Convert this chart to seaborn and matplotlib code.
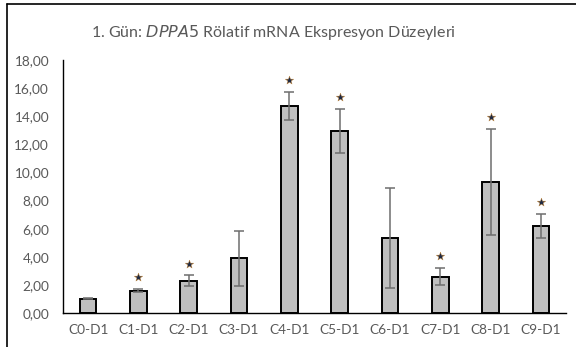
import matplotlib
matplotlib.use("Agg")
import matplotlib.pyplot as plt
import seaborn as sns
import pandas as pd
from matplotlib.lines import Line2D

categories = ["C0-D1", "C1-D1", "C2-D1", "C3-D1", "C4-D1", "C5-D1", "C6-D1", "C7-D1", "C8-D1", "C9-D1"]
values = [1.02, 1.59, 2.28, 3.89, 14.72, 12.94, 5.36, 2.58, 9.34, 6.19]
errors = [0.02, 0.11, 0.39, 1.94, 0.98, 1.58, 3.55, 0.60, 3.78, 0.87]
significant = [False, True, True, False, True, True, False, True, True, True]
yticks = [0, 2, 4, 6, 8, 10, 12, 14, 16, 18]

sns.set_theme(style="white")
plt.rcParams['font.family'] = ['Lato', 'DejaVu Sans']

df = pd.DataFrame({"cat": categories, "val": values})

fig = plt.figure(figsize=(5.76, 3.47), dpi=100)
ax = fig.add_axes([63/576, 1-313/347, (566-63)/576, (313-60)/347])

sns.barplot(data=df, x="cat", y="val", ax=ax, color="#BFBFBF",
            edgecolor="black", linewidth=1.4, width=0.33, saturation=1)

xs = list(range(len(categories)))
ax.errorbar(xs, values, yerr=errors, fmt="none", ecolor="#6E6E6E",
            elinewidth=1.1, capsize=3.5, capthick=1.1)

for x, v, e, s in zip(xs, values, errors, significant):
    if s:
        ax.scatter([x], [v + e + 0.85], marker="*", s=40, color="#1F2A44",
                   edgecolor="#C08030", linewidth=0.3, zorder=5)

ax.set_xlim(-0.5, len(categories) - 0.5)
ax.set_ylim(0, 18)
ax.set_yticks(yticks)
ax.set_yticklabels([f"{t:.2f}".replace(".", ",") for t in yticks])
ax.set_xlabel("")
ax.set_ylabel("")
ax.tick_params(axis="both", labelsize=9.8, colors="#595959", length=0)
ax.tick_params(axis="y", pad=10)
ax.tick_params(axis="x", pad=8)
for sp in ["top", "right"]:
    ax.spines[sp].set_visible(False)
for sp in ["left", "bottom"]:
    ax.spines[sp].set_color("black")
    ax.spines[sp].set_linewidth(1.0)

fig.text(273/576, 1-32/347, "1. Gün: $\\it{DPPA5}$ Rölatif mRNA Ekspresyon Düzeyleri",
         ha="center", va="center", fontsize=11.5, color="#595959")

# chart frame (left and top edges)
fig.add_artist(Line2D([7/576, 7/576], [0, 1-4/347], transform=fig.transFigure, color="black", lw=1.2))
fig.add_artist(Line2D([7/576, 1], [1-4/347, 1-4/347], transform=fig.transFigure, color="black", lw=1.2))

fig.savefig("out.png", dpi=100)
